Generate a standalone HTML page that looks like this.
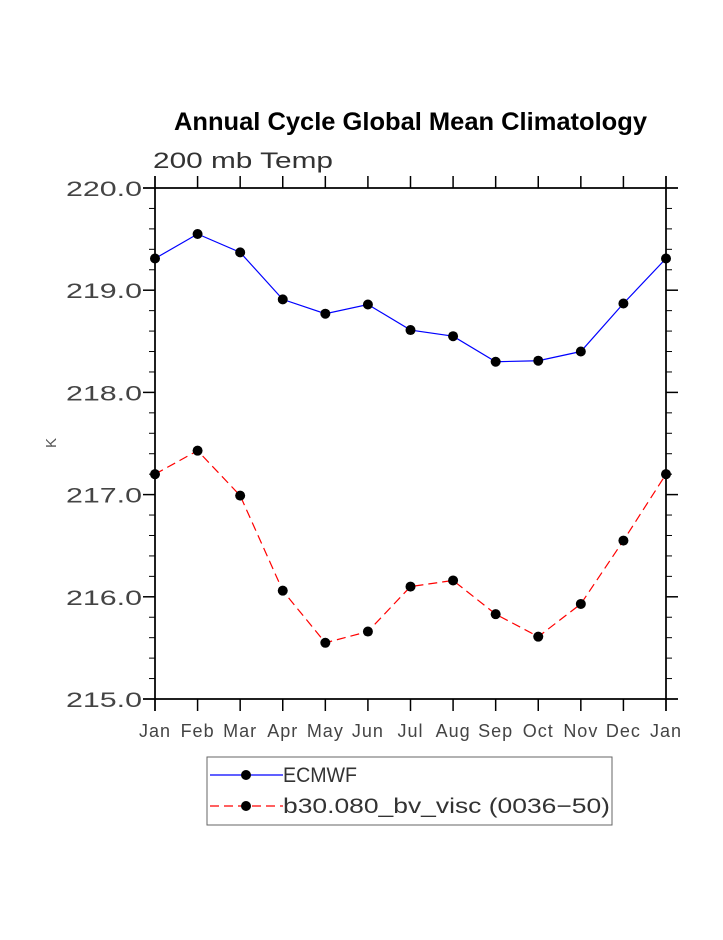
<!DOCTYPE html>
<html><head><meta charset="utf-8"><style>
html,body{margin:0;padding:0;background:#fff;}
svg text{font-family:"Liberation Sans",sans-serif;}
</style></head><body>
<svg width="723" height="935" viewBox="0 0 723 935" xmlns="http://www.w3.org/2000/svg">
<text x="174" y="130" textLength="473" lengthAdjust="spacingAndGlyphs" font-size="25" font-weight="bold" fill="#000">Annual Cycle Global Mean Climatology</text>
<text x="153" y="168" font-size="22" fill="#333" textLength="180" lengthAdjust="spacingAndGlyphs">200 mb Temp</text>
<text x="56" y="443" font-size="15" fill="#555" transform="rotate(-90 56 443)" text-anchor="middle">K</text>
<g id="axes"></g>
<g id="series"></g>
<g>
<rect x="207" y="757" width="405" height="68" fill="none" stroke="#666" stroke-width="1"/>
<g>
<line x1="210" y1="775" x2="283" y2="775" stroke="#00f" stroke-width="1.2"/>
<circle cx="246" cy="775" r="5" fill="#000"/>
<text x="283" y="782" font-size="21" fill="#333" textLength="74" lengthAdjust="spacingAndGlyphs">ECMWF</text></g>
<g>
<line x1="210" y1="806" x2="283" y2="806" stroke="#f00" stroke-width="1.2" stroke-dasharray="9,5"/>
<circle cx="246" cy="806" r="5" fill="#000"/>
<text x="283" y="813" font-size="21" fill="#333" textLength="327" lengthAdjust="spacingAndGlyphs">b30.080_bv_visc (0036−50)</text></g>
</g>
</svg>
<script>
const months=["Jan","Feb","Mar","Apr","May","Jun","Jul","Aug","Sep","Oct","Nov","Dec","Jan"];
const ecmwf=[219.31,219.55,219.37,218.91,218.77,218.86,218.61,218.55,218.30,218.31,218.40,218.87,219.31];
const b30=[217.20,217.43,216.99,216.06,215.55,215.66,216.10,216.16,215.83,215.61,215.93,216.55,217.20];
const yTicks=[215,216,217,218,219,220];
const NS="http://www.w3.org/2000/svg";
const L=155,R=666,T=188,B=699,ymin=215,ymax=220;
const xs=i=>L+(R-L)*i/(months.length-1);
const ys=v=>B-(v-ymin)/(ymax-ymin)*(B-T);
function mk(tag,attrs,parent){const e=document.createElementNS(NS,tag);for(const k in attrs)e.setAttribute(k,attrs[k]);parent.appendChild(e);return e;}
const ax=document.getElementById('axes');
const frame=mk('rect',{x:L,y:T,width:R-L,height:B-T,fill:'none',stroke:'#000','stroke-width':1.5},ax);


mk('line',{x1:L-12,y1:T,x2:R+12,y2:T,stroke:'#000','stroke-width':1.5},ax);
mk('line',{x1:L-12,y1:B,x2:R+12,y2:B,stroke:'#000','stroke-width':1.5},ax);
mk('line',{x1:L,y1:T-12,x2:L,y2:B+12,stroke:'#000','stroke-width':1.5},ax);
mk('line',{x1:R,y1:T-12,x2:R,y2:B+12,stroke:'#000','stroke-width':1.5},ax);
months.forEach((m,i)=>{const x=xs(i);
 mk('line',{x1:x,y1:B,x2:x,y2:B+12,stroke:'#000','stroke-width':1.5},ax);
 mk('line',{x1:x,y1:T,x2:x,y2:T-12,stroke:'#000','stroke-width':1.5},ax);
 const t=mk('text',{x:x,y:B+38,'text-anchor':'middle','font-size':18,fill:'#444','letter-spacing':1},ax);t.textContent=m;
 
 
});
for(let v=ymin;v<=ymax+1e-9;v+=0.2){const y=ys(v);const major=Math.abs(v-Math.round(v))<1e-6;const len=major?12:6;
 mk('line',{x1:L,y1:y,x2:L-len,y2:y,stroke:'#000','stroke-width':major?1.5:1},ax);
 mk('line',{x1:R,y1:y,x2:R+len,y2:y,stroke:'#000','stroke-width':major?1.5:1},ax);}
yTicks.forEach(v=>{const t=mk('text',{x:66,y:ys(v)+8,'font-size':21,fill:'#444',textLength:76,lengthAdjust:'spacingAndGlyphs'},ax);t.textContent=v.toFixed(1);
 
 });
const sg=document.getElementById('series');
function series(vals,color,dash,name){
 const g=mk('g',{},sg);
 
 
 const p=mk('polyline',{points:vals.map((v,i)=>xs(i)+','+ys(v)).join(' '),fill:'none',stroke:color,'stroke-width':1.2},g);
 if(dash)p.setAttribute('stroke-dasharray',dash);
 vals.forEach((v,i)=>{const c=mk('circle',{cx:xs(i),cy:ys(v),r:5,fill:'#000'},g);
  
  });
}
series(ecmwf,'#00f',null,'series-ecmwf');
series(b30,'#f00','9,5','series-b30');
</script>
</body></html>
